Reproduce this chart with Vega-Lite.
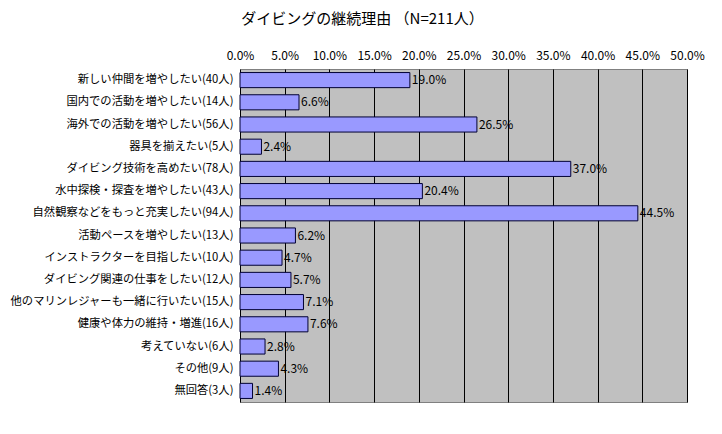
{
  "$schema": "https://vega.github.io/schema/vega-lite/v6.json",
  "autosize": "none",
  "width": 447,
  "height": 333,
  "padding": {"left": 240, "top": 69, "right": 35, "bottom": 32},
  "background": "white",
  "title": {
    "text": "ダイビングの継続理由 （N=211人）",
    "font": "Noto Sans CJK JP",
    "fontSize": 15,
    "fontWeight": "normal",
    "color": "#000000",
    "anchor": "middle",
    "offset": 22,
    "dx": -101
  },
  "data": {
    "values": [
      {"reason": "新しい仲間を増やしたい(40人)", "pct": 0.190},
      {"reason": "国内での活動を増やしたい(14人)", "pct": 0.066},
      {"reason": "海外での活動を増やしたい(56人)", "pct": 0.265},
      {"reason": "器具を揃えたい(5人)", "pct": 0.024},
      {"reason": "ダイビング技術を高めたい(78人)", "pct": 0.370},
      {"reason": "水中探検・探査を増やしたい(43人)", "pct": 0.204},
      {"reason": "自然観察などをもっと充実したい(94人)", "pct": 0.445},
      {"reason": "活動ペースを増やしたい(13人)", "pct": 0.062},
      {"reason": "インストラクターを目指したい(10人)", "pct": 0.047},
      {"reason": "ダイビング関連の仕事をしたい(12人)", "pct": 0.057},
      {"reason": "他のマリンレジャーも一緒に行いたい(15人)", "pct": 0.071},
      {"reason": "健康や体力の維持・増進(16人)", "pct": 0.076},
      {"reason": "考えていない(6人)", "pct": 0.028},
      {"reason": "その他(9人)", "pct": 0.043},
      {"reason": "無回答(3人)", "pct": 0.014}
    ]
  },
  "encoding": {
    "y": {
      "field": "reason",
      "type": "nominal",
      "sort": null,
      "scale": {"paddingInner": 0.32, "paddingOuter": 0.16},
      "axis": {
        "title": null,
        "ticks": false,
        "domain": false,
        "labelFont": "Noto Sans CJK JP",
        "labelFontSize": 11.3,
        "labelColor": "#000000",
        "labelPadding": 7,
        "labelLimit": 300
      }
    },
    "x": {
      "field": "pct",
      "type": "quantitative",
      "scale": {"domain": [0, 0.5], "nice": false},
      "axis": {
        "orient": "top",
        "title": null,
        "format": ".1%",
        "values": [0, 0.05, 0.1, 0.15, 0.2, 0.25, 0.3, 0.35, 0.4, 0.45, 0.5],
        "ticks": false,
        "domain": false,
        "grid": true,
        "gridColor": "#000000",
        "gridOpacity": 1,
        "gridWidth": 1,
        "labelFont": "Noto Sans CJK JP",
        "labelFontSize": 12,
        "labelColor": "#000000",
        "labelPadding": 7,
        "labelFlush": false
      }
    }
  },
  "layer": [
    {
      "mark": {"type": "bar", "fill": "#9999FF", "stroke": "#000033", "strokeWidth": 1}
    },
    {
      "mark": {"type": "text", "align": "left", "dx": 2, "font": "Noto Sans CJK JP", "fontSize": 12, "color": "#000000"},
      "encoding": {"text": {"field": "pct", "type": "quantitative", "format": ".1%"}}
    }
  ],
  "config": {
    "view": {"fill": "#C0C0C0", "stroke": "#808080", "strokeWidth": 1}
  }
}
